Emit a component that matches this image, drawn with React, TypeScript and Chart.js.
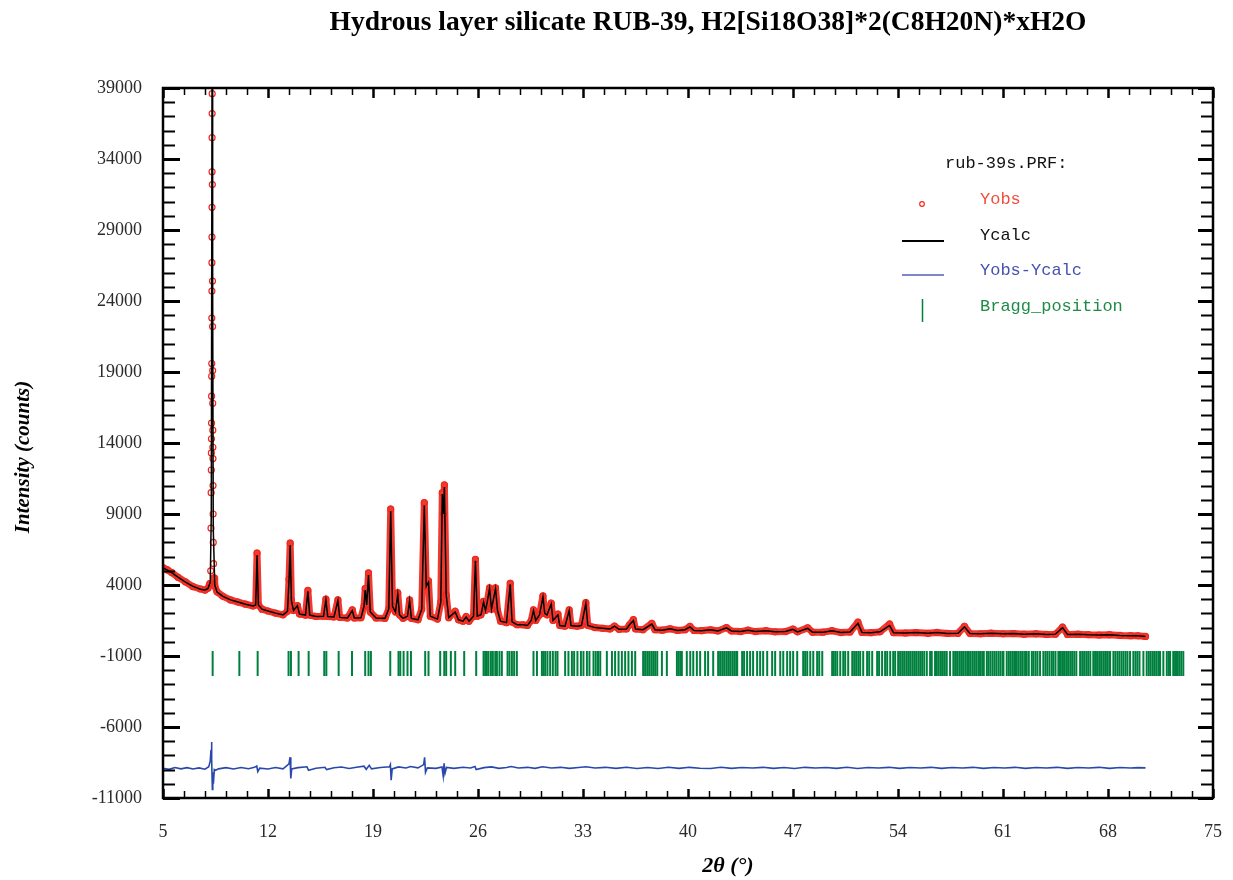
import React, { useEffect, useRef } from "react";
import { Chart, registerables } from "chart.js";

Chart.register(...registerables);

const chartTitle = "Hydrous layer silicate RUB-39, H2[Si18O38]*2(C8H20N)*xH2O";
const xAxisTitle = "2\u03B8 (\u00B0)";
const yAxisTitle = "Intensity (counts)";
const legendHeader = "rub-39s.PRF:";
const seriesNames = ["Yobs", "Ycalc", "Yobs-Ycalc", "Bragg_position"];

const xTickValues = [5, 12, 19, 26, 33, 40, 47, 54, 61, 68, 75];
const yTickValues = [-11000, -6000, -1000, 4000, 9000, 14000, 19000, 24000, 29000, 34000, 39000];

// Ycalc profile (2theta, counts)
const calcTwoTheta = [
  5.0, 5.3, 5.6, 6.0, 6.5, 7.0, 7.5, 7.8, 8.0, 8.15, 8.22, 8.27, 8.31, 8.35, 8.45, 8.6, 9.0, 9.5, 10.0, 10.5,
  11.0, 11.18, 11.27, 11.36, 11.6, 12.0, 12.5, 13.0, 13.3, 13.4, 13.48, 13.56, 13.7, 13.96, 14.1, 14.5, 14.66, 14.78,
  15.2, 15.7, 15.86, 15.98, 16.4, 16.66, 16.78, 17.3, 17.62, 17.75, 18.2, 18.4, 18.48, 18.58, 18.7, 18.82, 19.2, 19.8,
  20.05, 20.18, 20.3, 20.5, 20.65, 20.77, 21.0, 21.3, 21.44, 21.56, 22.0, 22.25, 22.42, 22.55, 22.7, 22.82, 23.3,
  23.52, 23.62, 23.7, 23.76, 23.88, 24.05, 24.48, 24.7, 25.0, 25.21, 25.4, 25.7, 25.83, 25.95, 26.2, 26.37, 26.5,
  26.6, 26.77, 26.9, 27.17, 27.3, 27.5, 27.9, 28.15, 28.27, 28.6, 29.0, 29.3, 29.55, 29.7, 29.85, 30.1, 30.33,
  30.45, 30.6, 30.88, 31.0, 31.33, 31.45, 31.8, 32.08, 32.2, 32.6, 32.9, 33.19, 33.32, 33.8, 34.3, 34.8, 35.1,
  35.4, 35.9, 36.1, 36.36, 36.5, 37.0, 37.59, 37.8, 38.3, 38.8, 39.3, 39.8, 40.13, 40.4, 40.9, 41.5, 42.0, 42.57,
  42.9, 43.5, 44.0, 44.5, 45.2, 45.8, 46.5, 47.0, 47.3, 47.98, 48.3, 49.0, 49.6, 50.2, 50.8, 51.33, 51.6, 52.2,
  52.8, 53.44, 53.7, 54.5, 55.2, 56.0, 56.6, 57.3, 58.0, 58.43, 58.8, 59.5, 60.2, 61.0, 61.7, 62.4, 63.2, 63.9,
  64.5, 64.97, 65.3, 66.0, 66.7, 67.4, 68.1, 68.8, 69.5, 70.0, 70.5,
];
const calcCounts = [
  5200, 5050, 4850, 4550, 4200, 3900, 3700, 3650, 3750, 4200, 9000, 41000, 25000, 8000, 4000, 3500, 3200, 2950, 2800, 2650,
  2520, 2600, 6100, 2600, 2300, 2170, 2020, 1900, 2150, 4300, 6800, 2900, 2200, 2550, 1950, 1880, 3550, 1880,
  1780, 1800, 2950, 1780, 1750, 2900, 1720, 1680, 2200, 1680, 1700, 2500, 3650, 2600, 4700, 2100, 1680, 1650,
  2300, 9200, 2500, 2100, 3350, 1900, 1650, 1800, 2900, 1650, 1550, 2300, 9600, 3900, 4200, 1800, 1600,
  2800, 10400, 9000, 10900, 3300, 1700, 2100, 1550, 1450, 1750, 1450, 1800, 5700, 1800, 1900, 2800, 2200,
  2700, 3750, 2300, 3750, 2200, 1450, 1350, 4050, 1400, 1200, 1200, 1150, 1500, 2200, 1500, 1900, 3150,
  2000, 1900, 2650, 1500, 1900, 1150, 1100, 2200, 1150, 1100, 1150, 2700, 1150, 1000, 950, 900, 1100,
  880, 900, 1200, 1500, 900, 850, 1250, 850, 820, 920, 800, 850, 1050, 800, 780, 850, 760, 980,
  760, 720, 820, 720, 780, 700, 720, 880, 700, 950, 680, 680, 780, 650, 690, 1300, 660, 640,
  700, 1150, 640, 620, 650, 600, 660, 590, 600, 1050, 580, 560, 610, 560, 580, 540, 560, 520,
  540, 1000, 520, 540, 500, 480, 500, 450, 430, 420, 380,
];

// Yobs points (2theta, counts)
const obsTwoTheta = [
  5.0, 5.3, 5.6, 6.0, 6.5, 7.0, 7.5, 7.8, 8.0, 8.12, 8.18, 8.2, 8.21, 8.22, 8.225, 8.23, 8.235, 8.24, 8.245, 8.25,
  8.255, 8.26, 8.262, 8.265, 8.268, 8.27, 8.273, 8.276, 8.28, 8.29, 8.3, 8.305, 8.31, 8.315, 8.32, 8.325, 8.33,
  8.335, 8.34, 8.35, 8.37, 8.4, 8.45, 8.6, 9.0, 9.5, 10.0, 10.5,
  11.0, 11.18, 11.27, 11.36, 11.6, 12.0, 12.5, 13.0, 13.3, 13.4, 13.48, 13.56, 13.7, 13.96, 14.1, 14.5, 14.66, 14.78,
  15.2, 15.7, 15.86, 15.98, 16.4, 16.66, 16.78, 17.3, 17.62, 17.75, 18.2, 18.4, 18.48, 18.58, 18.7, 18.82, 19.2, 19.8,
  20.05, 20.18, 20.3, 20.5, 20.65, 20.77, 21.0, 21.3, 21.44, 21.56, 22.0, 22.25, 22.42, 22.55, 22.7, 22.82, 23.3,
  23.52, 23.62, 23.7, 23.76, 23.88, 24.05, 24.48, 24.7, 25.0, 25.21, 25.4, 25.7, 25.83, 25.95, 26.2, 26.37, 26.5,
  26.6, 26.77, 26.9, 27.17, 27.3, 27.5, 27.9, 28.15, 28.27, 28.6, 29.0, 29.3, 29.55, 29.7, 29.85, 30.1, 30.33,
  30.45, 30.6, 30.88, 31.0, 31.33, 31.45, 31.8, 32.08, 32.2, 32.6, 32.9, 33.19, 33.32, 33.8, 34.3, 34.8, 35.1,
  35.4, 35.9, 36.1, 36.36, 36.5, 37.0, 37.59, 37.8, 38.3, 38.8, 39.3, 39.8, 40.13, 40.4, 40.9, 41.5, 42.0, 42.57,
  42.9, 43.5, 44.0, 44.5, 45.2, 45.8, 46.5, 47.0, 47.3, 47.98, 48.3, 49.0, 49.6, 50.2, 50.8, 51.33, 51.6, 52.2,
  52.8, 53.44, 53.7, 54.5, 55.2, 56.0, 56.6, 57.3, 58.0, 58.43, 58.8, 59.5, 60.2, 61.0, 61.7, 62.4, 63.2, 63.9,
  64.5, 64.97, 65.3, 66.0, 66.7, 67.4, 68.1, 68.8, 69.5, 70.0, 70.5,
];
const obsCounts = [
  5220, 5060, 4870, 4540, 4220, 3880, 3720, 3640, 3770, 4100, 5000, 8000, 10500, 12100, 13300, 14300, 15400, 17300, 18700, 19600,
  22800, 24700, 26700, 28500, 30600, 33100, 35500, 37200, 38600, 32200, 25400, 22200, 19100, 16800, 14900, 13700, 12900,
  11000, 9000, 7000, 5500, 4500, 3950, 3520, 3200, 2950, 2800, 2650,
  2520, 2600, 6250, 2600, 2300, 2170, 2020, 1900, 2150, 4400, 6950, 2900, 2200, 2550, 1950, 1880, 3620, 1880,
  1780, 1800, 3000, 1780, 1750, 2950, 1720, 1680, 2250, 1680, 1700, 2500, 3750, 2600, 4850, 2100, 1680, 1650,
  2300, 9350, 2500, 2100, 3450, 1900, 1650, 1800, 2950, 1650, 1550, 2300, 9800, 3900, 4300, 1800, 1600,
  2800, 10500, 9000, 11050, 3300, 1700, 2150, 1550, 1450, 1780, 1450, 1800, 5800, 1800, 1900, 2850, 2200,
  2700, 3800, 2300, 3800, 2200, 1450, 1350, 4120, 1400, 1200, 1200, 1150, 1500, 2250, 1500, 1900, 3230,
  2000, 1900, 2720, 1500, 1950, 1150, 1100, 2250, 1150, 1100, 1150, 2760, 1150, 1000, 950, 900, 1100,
  880, 900, 1200, 1560, 900, 850, 1300, 850, 820, 920, 800, 850, 1080, 800, 780, 850, 760, 1000,
  760, 720, 820, 720, 780, 700, 720, 900, 700, 980, 680, 680, 780, 650, 690, 1380, 660, 640,
  700, 1250, 640, 620, 650, 600, 660, 590, 600, 1080, 580, 560, 610, 560, 580, 540, 560, 520,
  540, 1030, 520, 540, 500, 480, 500, 450, 430, 420, 380,
];

// Yobs-Ycalc difference curve (offset)
const diffTwoTheta = [
  5.0, 5.4, 5.8, 6.2, 6.6, 7.0, 7.4, 7.8, 8.05, 8.15, 8.2, 8.23, 8.26, 8.29, 8.32, 8.36, 8.42, 8.5, 8.7, 9.2,
  9.7, 10.2, 10.7, 11.1, 11.25, 11.32, 11.45, 12.0, 12.5, 13.0, 13.4, 13.47, 13.52, 13.58, 14.0, 14.6, 14.7, 15.2,
  15.8, 15.9, 16.4, 16.9, 17.4, 17.9, 18.4, 18.55, 18.75, 18.9, 19.5, 20.1, 20.16, 20.21, 20.28, 20.7, 21.2, 21.5,
  22.0, 22.38, 22.44, 22.5, 22.62, 23.2, 23.6, 23.68, 23.74, 23.8, 23.9, 24.4, 25.0, 25.5, 25.8, 25.88, 26.4, 26.9,
  27.4, 27.9, 28.2, 28.7, 29.3, 29.8, 30.3, 30.9, 31.5, 32.1, 32.7, 33.2, 33.8, 34.5, 35.2, 35.9, 36.6, 37.3, 38.0,
  38.7, 39.4, 40.1, 40.8, 41.5, 42.2, 42.9, 43.6, 44.3, 45.0, 45.7, 46.4, 47.1, 47.8, 48.5, 49.2, 49.9, 50.6, 51.3,
  52.0, 52.7, 53.4, 54.1, 54.8, 55.5, 56.2, 56.9, 57.6, 58.3, 59.0, 59.7, 60.4, 61.1, 61.8, 62.5, 63.2, 63.9, 64.6,
  65.3, 66.0, 66.7, 67.4, 68.1, 68.8, 69.5, 70.0, 70.5,
];
const diffCounts = [
  -8900, -8980, -8850, -8950, -8860, -8960, -8880, -8970, -8800, -8400, -7600, -7050, -8300, -10400, -9200, -10000, -9000, -9050, -8950, -8860,
  -8960, -8850, -8940, -8840, -8750, -9150, -8900, -8960, -8850, -8950, -8600, -8130, -9620, -8950, -8860, -8800, -9050, -8900,
  -8840, -9000, -8870, -8820, -8920, -8840, -8760, -8980, -8700, -8950, -8850, -8800, -8650, -9750, -8950, -8810, -8890, -8780,
  -8880, -8650, -8130, -9200, -8880, -8910, -8820, -9450, -8560, -9250, -8850, -8910, -8840, -8890, -8780, -9000, -8860, -8810,
  -8910, -8850, -8780, -8890, -8840, -8910, -8800, -8890, -8840, -8910, -8850, -8800, -8890, -8840, -8910, -8840, -8920, -8850, -8920,
  -8840, -8910, -8840, -8900, -8920, -8840, -8910, -8850, -8890, -8840, -8910, -8850, -8920, -8840, -8890, -8850, -8910, -8840, -8920,
  -8850, -8890, -8840, -8910, -8850, -8890, -8840, -8910, -8850, -8890, -8840, -8910, -8850, -8890, -8840, -8910, -8850, -8890, -8840,
  -8910, -8850, -8890, -8840, -8910, -8850, -8890, -8860, -8880,
];

// Bragg reflection positions (2theta)
const braggTwoTheta = [
  8.31, 10.09, 11.31, 13.37, 13.53, 14.04, 14.71, 15.75, 15.89, 16.71, 17.6, 18.48, 18.7, 18.86,
  20.15, 20.7, 20.82, 21.04, 21.3, 21.53, 22.48, 22.7, 23.48, 23.75, 23.88, 24.19, 24.48, 25.08, 25.88,
  26.37, 26.48, 26.59, 26.7, 26.86, 26.99, 27.15, 27.26, 27.43, 27.59, 27.97, 28.1, 28.26, 28.41, 28.59,
  29.7, 29.93, 30.26, 30.37, 30.48, 30.63, 30.81, 30.99, 31.17, 31.3, 31.81, 32.03, 32.26, 32.41, 32.63, 32.86, 33.03, 33.26, 33.43,
  33.7, 33.85, 34.0, 34.15, 34.59, 34.93, 35.14, 35.37, 35.59, 35.81, 36.03, 36.26, 36.48,
  37.01, 37.14, 37.28, 37.41, 37.55, 37.68, 37.81, 37.95, 38.26, 38.59,
  39.26, 39.39, 39.52, 39.59, 39.92, 40.15, 40.35, 40.59, 40.81, 41.14, 41.34, 41.68,
  42.01, 42.14, 42.28, 42.41, 42.55, 42.68, 42.81, 42.95, 43.08, 43.21, 43.28, 43.61, 43.74, 43.94,
  44.14, 44.34, 44.61, 44.81, 45.01, 45.28, 45.61, 45.81, 46.15, 46.35, 46.61, 46.81, 47.01, 47.28,
  47.68, 47.81, 47.95, 48.15, 48.35, 48.61, 48.75, 48.95, 49.61, 49.68, 49.81, 49.95, 50.15, 50.35, 50.48, 50.68,
  50.95, 51.08, 51.21, 51.35, 51.48, 51.68, 51.94, 52.08, 52.28, 52.61, 52.74, 52.94, 53.14, 53.28, 53.48, 53.68, 53.81, 54.01,
  54.14, 54.28, 54.41, 54.55, 54.68, 54.81, 54.95, 55.08, 55.21, 55.35, 55.48, 55.61, 55.75, 55.92, 56.14, 56.25, 56.47,
  56.59, 56.72, 56.86, 56.99, 57.12, 57.25, 57.47, 57.69, 57.81, 57.94, 58.08, 58.21, 58.34, 58.48, 58.61, 58.69,
  58.81, 58.95, 59.08, 59.21, 59.35, 59.47, 59.61, 59.72, 59.92, 60.03, 60.16, 60.3, 60.43, 60.56, 60.7, 60.83, 60.97, 61.03,
  61.25, 61.39, 61.52, 61.66, 61.8, 61.92, 62.05, 62.19, 62.32, 62.47, 62.58, 62.72, 62.92, 63.03, 63.17, 63.3, 63.47,
  63.69, 63.83, 63.96, 64.1, 64.25, 64.36, 64.5, 64.69, 64.8, 64.94, 65.07, 65.21, 65.34, 65.48, 65.61, 65.75, 65.89,
  66.14, 66.28, 66.41, 66.55, 66.68, 66.82, 67.02, 67.14, 67.27, 67.41, 67.54, 67.68, 67.81, 67.94, 68.08, 68.14,
  68.36, 68.49, 68.63, 68.76, 68.9, 69.03, 69.17, 69.3, 69.47, 69.69, 69.83, 69.96, 70.1, 70.36,
  70.58, 70.72, 70.85, 70.99, 71.12, 71.25, 71.39, 71.47, 71.69, 71.92, 72.05, 72.14, 72.35, 72.47, 72.6, 72.74, 72.88, 73.02,
];
const braggLevel = -1530;

const SERIF = '"Liberation Serif", "Times New Roman", serif';
const MONO = '"Liberation Mono", "Courier New", monospace';

const RED = "rgb(238,42,30)";
const BLUE = "rgb(42,72,172)";
const GREEN = "rgb(0,128,62)";

const framePlugin = {
  id: "frameTicks",
  afterDatasetsDraw(chart: any) {
    const { ctx, chartArea } = chart;
    const { left, right, top, bottom } = chartArea;
    const xs = chart.scales.x;
    const ys = chart.scales.y;
    ctx.save();
    ctx.strokeStyle = "#000";
    for (let i = 0; i <= 50; i++) {
      const v = xTickValues[0] + (i * (xTickValues[1] - xTickValues[0])) / 5;
      const px = Math.round(xs.getPixelForValue(v)) + 0.5;
      const major = i % 5 === 0;
      ctx.lineWidth = major ? 2.5 : 1.5;
      const lt = major ? 10 : 7;
      const lb = major ? 9 : 7;
      ctx.beginPath();
      ctx.moveTo(px, top);
      ctx.lineTo(px, top + lt);
      ctx.moveTo(px, bottom);
      ctx.lineTo(px, bottom - lb);
      ctx.stroke();
    }
    for (let i = 0; i <= 50; i++) {
      const v = yTickValues[0] + (i * (yTickValues[1] - yTickValues[0])) / 5;
      const py = Math.round(ys.getPixelForValue(v)) + 0.5;
      const major = i % 5 === 0;
      ctx.lineWidth = major ? 3 : 1.8;
      const ll = major ? 17 : 12;
      const lr = major ? 15 : 12;
      ctx.beginPath();
      ctx.moveTo(left, py);
      ctx.lineTo(left + ll, py);
      ctx.moveTo(right, py);
      ctx.lineTo(right - lr, py);
      ctx.stroke();
    }
    ctx.lineWidth = 2.5;
    ctx.strokeRect(left, top, right - left, bottom - top);
    ctx.restore();
  },
};

const textPlugin = {
  id: "texts",
  afterDraw(chart: any) {
    const { ctx } = chart;
    ctx.save();
    ctx.fillStyle = "#000";
    ctx.font = `bold 28px ${SERIF}`;
    const w = ctx.measureText(chartTitle).width;
    ctx.save();
    ctx.translate(708, 23);
    ctx.scale(757 / w, 1);
    ctx.textAlign = "center";
    ctx.textBaseline = "middle";
    ctx.fillText(chartTitle, 0, 0);
    ctx.restore();

    ctx.save();
    ctx.translate(24, 457);
    ctx.rotate(-Math.PI / 2);
    ctx.font = `italic bold 21px ${SERIF}`;
    ctx.textAlign = "center";
    ctx.textBaseline = "middle";
    ctx.fillText(yAxisTitle, 0, 0);
    ctx.restore();

    ctx.font = `italic bold 22px ${SERIF}`;
    ctx.textAlign = "center";
    ctx.textBaseline = "middle";
    ctx.fillText(xAxisTitle, 728, 866);

    ctx.textAlign = "left";
    ctx.textBaseline = "middle";
    ctx.font = `17px ${MONO}`;
    ctx.fillStyle = "#111";
    ctx.fillText(legendHeader, 945, 163);

    ctx.strokeStyle = RED;
    ctx.lineWidth = 1.2;
    ctx.beginPath();
    ctx.arc(922, 204, 2.3, 0, Math.PI * 2);
    ctx.stroke();
    ctx.fillStyle = "rgb(240,78,58)";
    ctx.fillText(seriesNames[0], 980, 199);

    ctx.strokeStyle = "#000";
    ctx.lineWidth = 2;
    ctx.beginPath();
    ctx.moveTo(902, 241);
    ctx.lineTo(944, 241);
    ctx.stroke();
    ctx.fillStyle = "#111";
    ctx.fillText(seriesNames[1], 980, 235);

    ctx.strokeStyle = "rgb(80,95,185)";
    ctx.lineWidth = 1.5;
    ctx.beginPath();
    ctx.moveTo(902, 275);
    ctx.lineTo(944, 275);
    ctx.stroke();
    ctx.fillStyle = "rgb(70,80,175)";
    ctx.fillText(seriesNames[2], 980, 270);

    ctx.strokeStyle = GREEN;
    ctx.lineWidth = 1.5;
    ctx.beginPath();
    ctx.moveTo(922.5, 299);
    ctx.lineTo(922.5, 322);
    ctx.stroke();
    ctx.fillStyle = "rgb(30,140,70)";
    ctx.fillText(seriesNames[3], 980, 306);
    ctx.restore();
  },
};

export default function App() {
  const ref = useRef<HTMLCanvasElement | null>(null);

  useEffect(() => {
    const canvas = ref.current;
    if (!canvas) return;
    const toXY = (xs: number[], ys: number[]) => xs.map((x, i) => ({ x, y: ys[i] }));
    const chart = new Chart(canvas, {
      type: "scatter",
      data: {
        datasets: [
          {
            label: seriesNames[1],
            data: toXY(calcTwoTheta, calcCounts),
            showLine: true,
            borderColor: "#000",
            borderWidth: 1.5,
            pointRadius: 0,
            order: 0,
          },
          {
            label: seriesNames[0],
            data: toXY(obsTwoTheta, obsCounts),
            showLine: true,
            borderColor: "rgba(240,40,30,0.92)",
            borderWidth: 7,
            borderJoinStyle: "round",
            borderCapStyle: "round",
            segment: {
              borderColor: (c: any) =>
                c.p0.parsed.x > 8.1 && c.p1.parsed.x < 8.42 ? "rgba(0,0,0,0)" : "rgba(240,40,30,0.92)",
            },
            pointRadius: 3,
            pointBorderWidth: 1.2,
            pointBorderColor: RED,
            pointBackgroundColor: "rgba(255,255,255,0)",
            order: 1,
          },
          {
            label: seriesNames[2],
            data: toXY(diffTwoTheta, diffCounts),
            showLine: true,
            borderColor: BLUE,
            borderWidth: 1.6,
            pointRadius: 0,
            order: 2,
          },
          {
            label: seriesNames[3],
            data: braggTwoTheta.map((x) => ({ x, y: braggLevel })),
            showLine: false,
            pointStyle: "line",
            rotation: 90,
            pointRadius: 12.5,
            pointBorderWidth: 2,
            pointBorderColor: GREEN,
            borderColor: GREEN,
            order: 3,
          },
        ],
      },
      options: {
        animation: false,
        responsive: false,
        devicePixelRatio: 1,
        events: [],
        layout: { padding: { top: 88, right: 20, left: 0, bottom: 0 } },
        plugins: {
          legend: { display: false },
          tooltip: { enabled: false },
          title: { display: false },
        },
        scales: {
          x: {
            type: "linear",
            position: "bottom",
            min: 5,
            max: 75,
            afterBuildTicks: (s: any) => {
              s.ticks = xTickValues.map((v) => ({ value: v }));
            },
            afterFit: (s: any) => {
              s.height = 82;
              s.paddingLeft = 0;
              s.paddingRight = 0;
            },
            grid: { display: false, drawTicks: false },
            border: { display: false },
            ticks: {
              padding: 23,
              autoSkip: false,
              maxRotation: 0,
              color: "#2a2a2a",
              font: { family: SERIF, size: 18 },
              callback: (v: any) => String(v),
            },
          },
          y: {
            type: "linear",
            min: -11000,
            max: 39000,
            afterBuildTicks: (s: any) => {
              s.ticks = yTickValues.map((v) => ({ value: v }));
            },
            afterFit: (s: any) => {
              s.width = 163;
              s.paddingTop = 0;
              s.paddingBottom = 0;
            },
            grid: { display: false, drawTicks: false },
            border: { display: false },
            ticks: {
              padding: 21,
              autoSkip: false,
              color: "#2a2a2a",
              font: { family: SERIF, size: 18 },
              callback: (v: any) => String(v),
            },
          },
        },
      },
      plugins: [framePlugin, textPlugin],
    } as any);
    return () => chart.destroy();
  }, []);

  return (
    <div style={{ position: "fixed", left: 0, top: 0, width: 1233, height: 880, background: "#fff" }}>
      <canvas ref={ref} width={1233} height={880} style={{ display: "block", width: 1233, height: 880 }} />
    </div>
  );
}
